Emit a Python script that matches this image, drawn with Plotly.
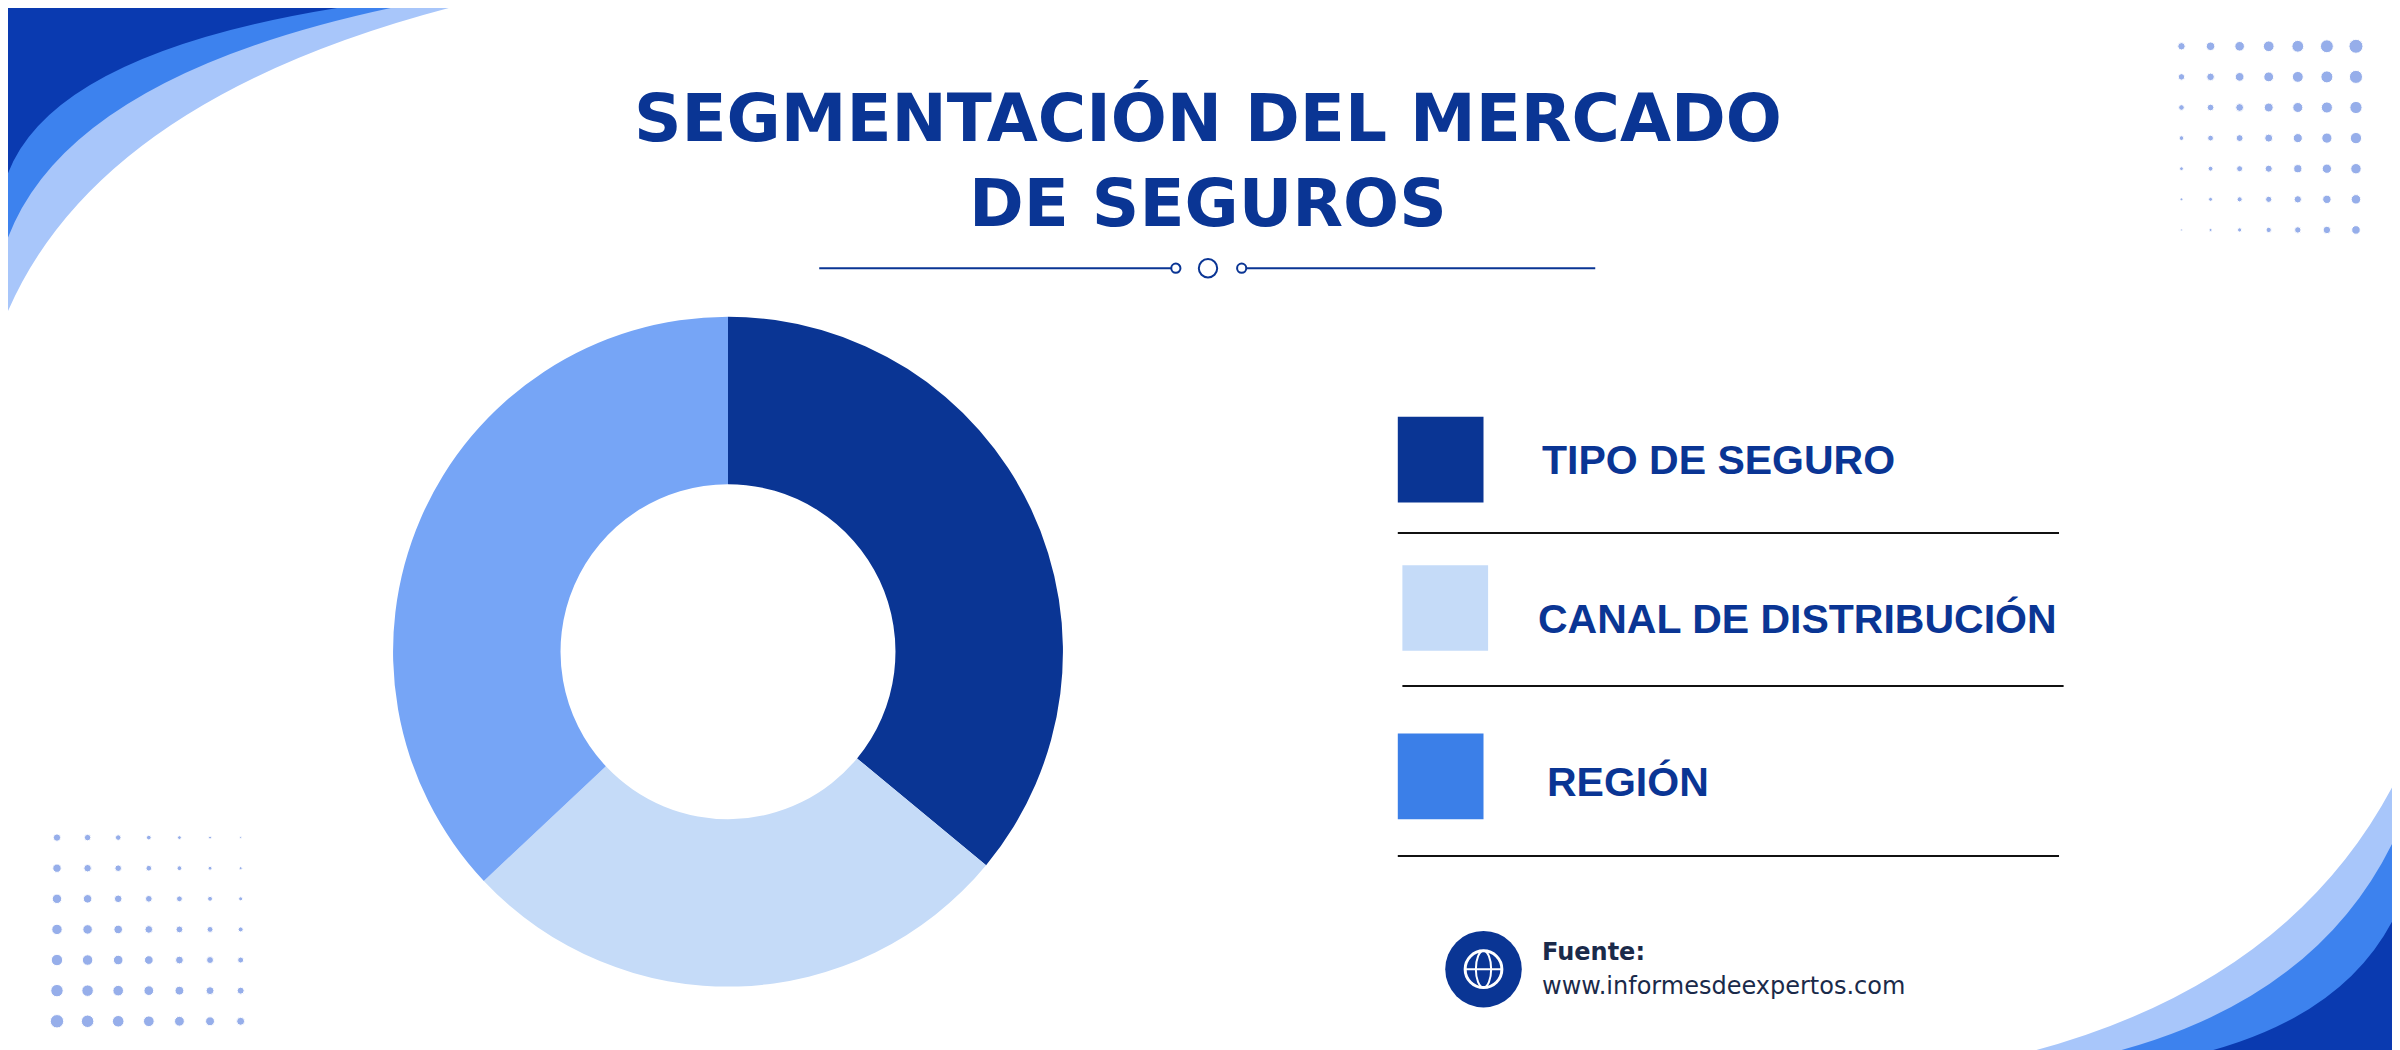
import plotly.graph_objects as go

categories = ["TIPO DE SEGURO", "CANAL DE DISTRIBUCIÓN", "REGIÓN"]
values = [36, 27, 37]
slice_colors = ["#0a3594", "#c5dbf8", "#76a5f6"]
legend_colors = ["#0a3594", "#c5dbf8", "#3b7fe8"]
title_lines = ["SEGMENTACIÓN DEL MERCADO", "DE SEGUROS"]
source_label = "Fuente:"
source_url = "www.informesdeexpertos.com"

W, H = 2400, 1050
DW, DH = 1568, 686
def px(x): return x / DW
def py(y): return 1 - y / DH

fig = go.Figure()
fig.add_trace(go.Pie(labels=categories, values=values, hole=0.5, sort=False, direction="clockwise",
                     rotation=0, marker=dict(colors=slice_colors), textinfo="none", showlegend=False,
                     hoverinfo="label+percent", domain=dict(x=[0.159, 0.441], y=[0.068, 0.706])))

dx, dy, ds = [], [], []
for i in range(7):
    for j in range(7):
        dx.append(px(1420 + i * 19)); dy.append(py(25 + j * 20)); ds.append(2 + i * 1.1 + (6 - j) * 0.9)
        dx.append(px(32 + i * 20)); dy.append(py(542 + j * 20)); ds.append(2 + (6 - i) * 0.9 + j * 1.0)
fig.add_trace(go.Scatter(x=dx, y=dy, mode="markers", marker=dict(size=ds, color="#7d9be6", opacity=0.8),
                         hoverinfo="skip", showlegend=False))

shapes = []
def band(path, color):
    shapes.append(dict(type="path", xref="paper", yref="paper", path=path, fillcolor=color, line=dict(width=0), layer="below"))
band(f"M 0 1 L {px(288)} 1 Q {px(60)} {py(60)} 0 {py(198)} Z", "#a8c6fa")
band(f"M 0 1 L {px(250)} 1 Q {px(40)} {py(45)} 0 {py(150)} Z", "#3d82ee")
band(f"M 0 1 L {px(215)} 1 Q {px(30)} {py(30)} 0 {py(108)} Z", "#0a3ab0")
band(f"M 1 0 L 1 {py(488)} Q {px(1500)} {py(640)} {px(1305)} 0 Z", "#a8c6fa")
band(f"M 1 0 L 1 {py(522)} Q {px(1520)} {py(650)} {px(1360)} 0 Z", "#3d82ee")
band(f"M 1 0 L 1 {py(572)} Q {px(1540)} {py(660)} {px(1420)} 0 Z", "#0a3ab0")

def line(x0, x1, y, color="#111111", w=2):
    shapes.append(dict(type="line", xref="paper", yref="paper", x0=px(x0), x1=px(x1), y0=py(y), y1=py(y), line=dict(color=color, width=w)))
line(530, 760, 170, "#0a3594", 2)
line(808, 1037, 170, "#0a3594", 2)
for cx, r in [(763, 3), (806, 3), (784, 6)]:
    shapes.append(dict(type="circle", xref="paper", yref="paper", x0=px(cx - r), x1=px(cx + r), y0=py(170 + r), y1=py(170 - r), line=dict(color="#0a3594", width=2), fillcolor="white"))
line(908, 1340, 343); line(911, 1343, 443); line(908, 1340, 554)

sq = [(908, 267), (911, 364), (908, 474)]
for (x, y), c in zip(sq, legend_colors):
    shapes.append(dict(type="rect", xref="paper", yref="paper", x0=px(x), x1=px(x + 56), y0=py(y + 56), y1=py(y), fillcolor=c, line=dict(width=0)))
shapes.append(dict(type="circle", xref="paper", yref="paper", x0=px(939), x1=px(989), y0=py(653), y1=py(603), fillcolor="#0a3594", line=dict(width=0)))
shapes.append(dict(type="circle", xref="paper", yref="paper", x0=px(952), x1=px(976), y0=py(640), y1=py(616), fillcolor="rgba(0,0,0,0)", line=dict(color="white", width=3)))
shapes.append(dict(type="circle", xref="paper", yref="paper", x0=px(959), x1=px(969), y0=py(640), y1=py(616), fillcolor="rgba(0,0,0,0)", line=dict(color="white", width=2)))
line(952, 976, 628, "white", 2)

ann = []
for t, y in zip(title_lines, [72, 128]):
    ann.append(dict(x=0.5, y=py(y), text=t, showarrow=False, xref="paper", yref="paper", yanchor="middle",
                    font=dict(family="DejaVu Sans", size=66, color="#0a3594", weight="bold")))
for (x, y), t in zip([(1001, 295), (998, 399), (1004, 506)], categories):
    ann.append(dict(x=px(x), y=py(y), text=t, xanchor="left", yanchor="middle", showarrow=False, xref="paper", yref="paper",
                    font=dict(family="Liberation Sans", size=41, color="#0a3594", weight="bold")))
ann.append(dict(x=px(1001), y=py(617), text="<b>" + source_label + "</b>", xanchor="left", yanchor="middle", showarrow=False, xref="paper", yref="paper",
                font=dict(family="DejaVu Sans", size=24, color="#1a2a4a")))
ann.append(dict(x=px(1001), y=py(639), text=source_url, xanchor="left", yanchor="middle", showarrow=False, xref="paper", yref="paper",
                font=dict(family="DejaVu Sans", size=24, color="#1a2a4a")))

fig.update_layout(width=W, height=H, margin=dict(l=0, r=0, t=0, b=0), paper_bgcolor="white", plot_bgcolor="rgba(0,0,0,0)",
                  shapes=shapes, annotations=ann,
                  xaxis=dict(range=[0, 1], visible=False, domain=[0, 1], fixedrange=True),
                  yaxis=dict(range=[0, 1], visible=False, domain=[0, 1], fixedrange=True))
fig.write_html("out.html")
